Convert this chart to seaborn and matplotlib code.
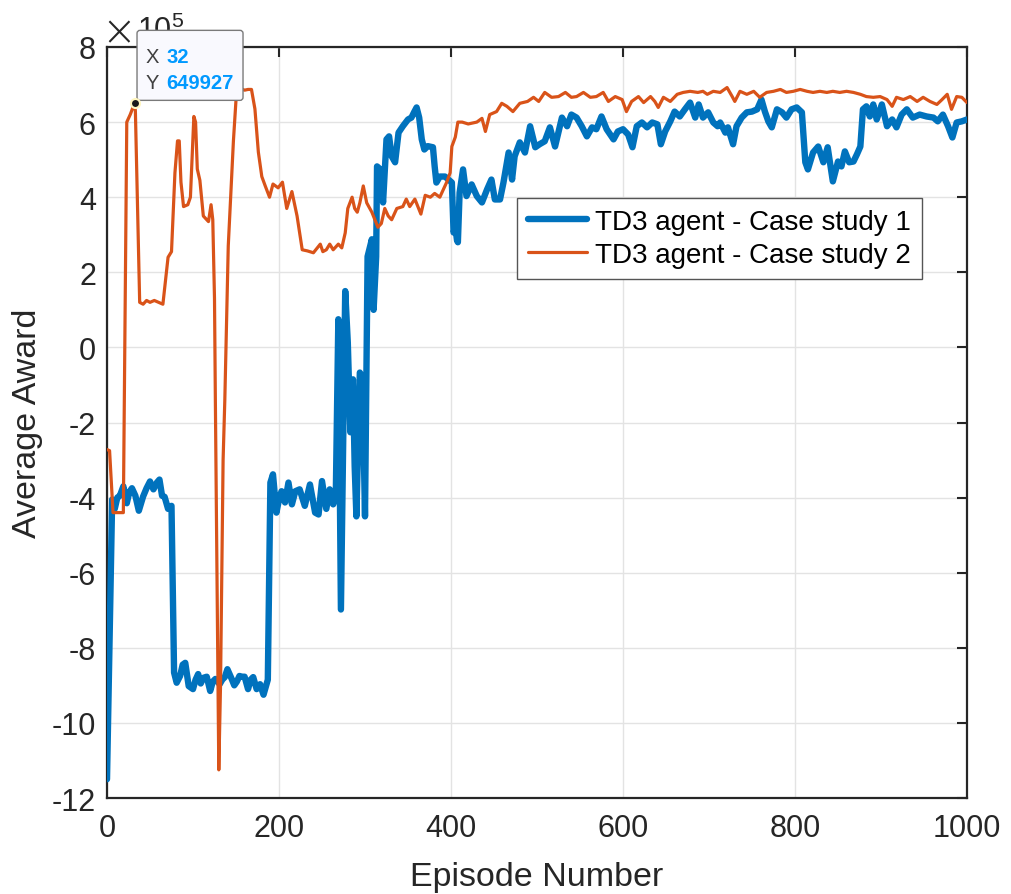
import numpy as np
import pandas as pd
import matplotlib
matplotlib.use("Agg")
import matplotlib.pyplot as plt
import matplotlib.transforms as mtransforms
from matplotlib.patches import FancyBboxPatch
from matplotlib.ticker import FuncFormatter, MultipleLocator
import seaborn as sns

# ---------------- data (rewards in units of 1e5) ----------------
case1_episode = [0, 6, 9, 12, 15, 19, 23, 26, 29, 33, 37, 42, 46, 50, 54, 58, 61, 64, 67, 71, 75,
                 78, 81, 85, 88, 91, 95, 100, 103, 106, 109, 112, 116, 120, 123, 126, 131, 134, 137,
                 140, 145, 148, 151, 154, 157, 160, 164, 167, 170, 174, 178, 182, 187, 190, 193, 197,
                 200, 203, 207, 211, 215, 219, 224, 230, 236, 242, 246, 250, 255, 259, 263, 266, 269,
                 272, 277, 280, 283, 286, 288, 290, 294, 297, 300, 303, 306, 308, 310, 313, 314, 318,
                 321, 325, 328, 331, 335, 339, 344, 350, 354, 357, 360, 363, 366, 369, 373, 379, 381,
                 383, 387, 393, 397, 401, 403, 405, 407, 408, 410, 414, 418, 424, 430, 436, 442, 447,
                 451, 457, 461, 467, 471, 474, 480, 486, 492, 498, 503, 509, 515, 521, 529, 535, 540,
                 546, 552, 558, 564, 569, 575, 581, 589, 594, 600, 606, 611, 616, 622, 628, 634, 640,
                 644, 649, 655, 660, 666, 672, 678, 684, 688, 693, 699, 705, 710, 713, 719, 722, 728,
                 732, 738, 744, 750, 756, 761, 765, 769, 773, 779, 785, 790, 796, 802, 808, 812, 815,
                 821, 827, 833, 838, 844, 850, 854, 858, 863, 868, 872, 876, 879, 883, 887, 891, 895,
                 901, 907, 913, 918, 924, 930, 937, 945, 953, 961, 966, 972, 978, 983, 988, 994, 1000]
case1_reward = [-11.5, -4.05, -4.3, -4.0, -3.95, -3.7, -4.15, -3.85, -3.75, -3.95, -4.35, -3.97, -3.75,
                -3.57, -3.78, -3.6, -3.52, -3.95, -3.98, -4.3, -4.22,
                -8.66, -8.93, -8.75, -8.45, -8.4, -9.02, -9.1, -8.85, -8.7, -8.95, -8.8, -8.77, -9.15,
                -8.9, -8.83, -8.97, -8.85, -8.78, -8.57, -8.83, -9.0, -8.9, -8.75, -8.77, -8.77, -9.1,
                -8.85, -8.78, -9.1, -8.97, -9.25, -8.85, -3.6, -3.38, -4.4,
                -4.05, -3.83, -4.13, -3.6, -4.18, -3.83, -3.78, -4.22, -3.65, -4.4, -4.45, -3.56, -4.3,
                -3.78, -4.18, -4.0, 0.75,
                -6.98, 1.5, 0.13, -2.26, -0.85, -3.17, -4.5, -0.67, -0.8, -4.5, 2.42, 2.7, 2.88, 1.0,
                2.42, 4.82, 4.74,
                3.86, 5.54, 5.62, 5.09, 4.93, 5.72, 5.89, 6.07, 6.12, 6.26, 6.39, 6.12, 5.54, 5.27,
                5.36, 5.33, 4.82,
                4.39, 4.55, 4.55, 4.47, 4.39, 3.06, 3.2, 2.85, 2.8, 4.12, 4.74, 4.03, 4.34, 4.03, 3.86,
                4.21, 4.47,
                3.94, 3.94, 4.39, 5.19, 4.47, 5.09, 5.46, 5.19, 5.89, 5.33, 5.41, 5.49, 5.86, 5.35,
                6.12, 5.89, 6.2,
                6.12, 5.89, 5.62, 5.86, 5.81, 6.15, 5.81, 5.54, 5.75, 5.81, 5.67, 5.33, 5.89, 5.99,
                5.86, 5.99, 5.94,
                5.41, 5.75, 6.02, 6.28, 6.15, 6.34, 6.52, 6.12, 6.47, 6.12, 6.26, 5.99, 5.89, 5.99,
                5.72, 5.86, 5.41,
                5.89, 6.12, 6.26, 6.28, 6.34, 6.6, 6.28, 6.02, 5.86, 6.34, 6.26, 6.12, 6.34, 6.39,
                6.26, 4.93, 4.74,
                5.19, 5.35, 4.93, 5.33, 4.42, 4.95, 4.82, 5.22, 4.93, 4.95, 5.14, 5.35, 6.34, 6.42,
                6.15, 6.47, 6.07,
                6.47, 5.89, 6.07, 5.86, 6.2, 6.34, 6.12, 6.2, 6.15, 6.12, 6.02, 6.2, 5.89, 5.59, 5.99,
                6.02, 6.07]

case2_episode = [0, 3, 7, 12, 19, 23, 27, 32, 33, 38, 42, 46, 50, 55, 60, 65, 71, 75, 79, 82, 84, 86,
                 89, 94, 97, 101, 103, 105, 108, 112, 118, 121, 123, 125, 126, 129, 130, 132, 135,
                 137, 141, 147, 151, 155, 160, 164, 168, 172, 176, 180, 184, 189, 193, 199, 204, 209,
                 215, 221, 227, 233, 240, 248, 251, 255, 259, 263, 269, 273, 277, 280, 285, 288, 291,
                 294, 298, 302, 308, 315, 319, 323, 327, 331, 337, 344, 348, 352, 358, 365, 370, 376,
                 381, 387, 395, 399, 401, 405, 408, 413, 420, 430, 436, 440, 445, 453, 459, 465, 472,
                 480, 489, 496, 502, 509, 517, 525, 533, 540, 546, 554, 562, 569, 577, 583, 591, 599,
                 604, 610, 618, 624, 632, 637, 641, 647, 655, 663, 670, 678, 687, 693, 698, 705, 713,
                 721, 727, 730, 736, 744, 752, 759, 767, 775, 783, 790, 798, 806, 814, 821, 829, 837,
                 844, 852, 860, 868, 876, 883, 891, 899, 907, 913, 918, 926, 934, 942, 949, 957, 965,
                 971, 977, 982, 988, 994, 1000]
case2_reward = [-2.72, -2.75, -4.4, -4.4, -4.4, 6.0, 6.2, 6.49927, 6.3, 1.2, 1.15, 1.25, 1.2, 1.25,
                1.2, 1.15, 2.4, 2.55, 4.65, 5.5, 5.5, 4.4,
                3.75, 3.8, 4.0, 6.15, 6.0, 4.75, 4.45, 3.5, 3.35, 3.8, 3.4, 1.3, -1.4, -9.0, -11.25,
                -9.0, -3.0,
                -1.4, 2.7, 5.5, 6.95, 6.9, 6.85, 6.87, 6.87, 6.35, 5.2, 4.55, 4.3, 4.0, 4.35, 4.25,
                4.4, 3.7,
                4.15, 3.5, 2.6, 2.57, 2.52, 2.75, 2.55, 2.6, 2.75, 2.6, 2.75, 2.65, 3.05, 3.7, 4.0,
                3.7, 3.6,
                3.85, 4.3, 3.85, 3.6, 3.2, 3.3, 3.7, 3.5, 3.4, 3.7, 3.75, 3.95, 3.75, 3.95, 3.55,
                4.05, 4.0,
                4.1, 4.0, 4.4, 4.65, 5.35, 5.6, 6.0, 6.0, 5.95, 6.0, 6.1, 5.75, 6.2, 6.28, 6.5, 6.42,
                6.28,
                6.5, 6.55, 6.66, 6.55, 6.79, 6.66, 6.68, 6.79, 6.66, 6.68, 6.79, 6.66, 6.68, 6.79,
                6.55, 6.68, 6.6,
                6.28, 6.55, 6.68, 6.52, 6.68, 6.55, 6.39, 6.66, 6.55, 6.74, 6.79, 6.82, 6.79, 6.82,
                6.74, 6.82, 6.79,
                6.92, 6.68, 6.55, 6.82, 6.74, 6.82, 6.66, 6.79, 6.82, 6.87, 6.79, 6.82, 6.87, 6.82,
                6.79, 6.82, 6.79,
                6.82, 6.79, 6.82, 6.79, 6.74, 6.68, 6.66, 6.68, 6.6, 6.42, 6.66, 6.6, 6.68, 6.55,
                6.66, 6.55, 6.47,
                6.6, 6.74, 6.34, 6.68, 6.66, 6.52]

series_labels = ["TD3 agent - Case study 1", "TD3 agent - Case study 2"]
x_ticks = [0, 200, 400, 600, 800, 1000]
y_tick_step = 2e5
reward_scale = 1e5
tip_x, tip_y = 32, 649927

# ---------------- style ----------------
sns.set_theme(style="white")
plt.rcParams["font.family"] = ["Liberation Sans", "DejaVu Sans"]
plt.rcParams["axes.unicode_minus"] = False
plt.rcParams["mathtext.fontset"] = "custom"
plt.rcParams["mathtext.rm"] = "Liberation Sans"
dark = "#262626"
blue = "#0072BD"
orange = "#D95319"

fig = plt.figure(figsize=(10.12, 8.95), dpi=100)
ax = fig.add_axes([0.10573, 0.10726, 0.8498, 0.83911])

df1 = pd.DataFrame({"Episode": case1_episode,
                    "Reward": np.array(case1_reward) * reward_scale})
df2 = pd.DataFrame({"Episode": case2_episode,
                    "Reward": np.array(case2_reward) * reward_scale})

sns.lineplot(data=df1, x="Episode", y="Reward", ax=ax, color=blue, linewidth=4.6,
             estimator=None, label=series_labels[0], zorder=3)
sns.lineplot(data=df2, x="Episode", y="Reward", ax=ax, color=orange, linewidth=2.3,
             estimator=None, label=series_labels[1], zorder=4)

ax.set_xlim(0, 1000)
ax.set_ylim(-12e5, 8e5)
ax.set_xticks(x_ticks)
ax.yaxis.set_major_locator(MultipleLocator(y_tick_step))
ax.yaxis.set_major_formatter(FuncFormatter(lambda v, p: f"{v / reward_scale:g}"))
# exponent label (MATLAB style "×10^5")
ax.annotate("\u00d7", xy=(0, 1), xycoords="axes fraction",
            xytext=(12, 15.5), textcoords="offset pixels", ha="center", va="center",
            fontsize=30, color=dark, zorder=1, annotation_clip=False,
            fontfamily="DejaVu Sans", fontweight="light")
ax.annotate("$\\mathregular{10^{5}}$", xy=(0, 1), xycoords="axes fraction",
            xytext=(30, 8), textcoords="offset pixels", ha="left", va="baseline",
            fontsize=22, color=dark, zorder=1, annotation_clip=False)

ax.grid(True, color="#e3e3e3", linewidth=1.0)
ax.set_axisbelow(True)
for s in ax.spines.values():
    s.set_color(dark)
    s.set_linewidth(1.6)
    s.set_visible(True)
ax.tick_params(axis="both", which="major", direction="in", length=7, width=1.5,
               top=True, right=True, labelsize=22, colors=dark)
ax.tick_params(axis="x", pad=11)
ax.tick_params(axis="y", pad=8)

ax.set_xlabel("Episode Number", fontsize=24.5, color=dark, labelpad=13)
ax.set_ylabel("Average Award", fontsize=24.5, color=dark, labelpad=6)

leg = ax.legend(loc="upper left", bbox_to_anchor=(0.477, 0.799), fontsize=20,
                frameon=True, fancybox=False, framealpha=1, borderpad=0.4,
                labelspacing=0.25, handlelength=2.1, handletextpad=0.3,
                borderaxespad=0)
leg.get_frame().set_edgecolor("#555555")
leg.get_frame().set_linewidth(1.0)
leg.set_zorder(6)
for t in leg.get_texts():
    t.set_color("black")

# ---------------- data tip ----------------
ax.plot([tip_x], [tip_y], "o", color="#1a1a1a", markersize=6.5,
        markeredgecolor="#fff6c0", markeredgewidth=1.5, zorder=12, clip_on=False)
fig.canvas.draw()
px, py = ax.transData.transform((tip_x, tip_y))
box = FancyBboxPatch((px + 2.5, py + 3), 106, 70,
                     boxstyle="round,pad=0,rounding_size=3",
                     transform=mtransforms.IdentityTransform(),
                     facecolor="#f9f9fe", edgecolor="#7a7a7a", linewidth=1.0,
                     zorder=10, clip_on=False)
ax.add_artist(box)
for lbl, val, dy in (("X", str(tip_x), 47), ("Y", str(tip_y), 21)):
    ax.annotate(lbl, xy=(tip_x, tip_y), xytext=(11.5, dy), textcoords="offset pixels",
                ha="left", va="center", fontsize=14.5, color="#404040", zorder=13,
                annotation_clip=False)
    ax.annotate(val, xy=(tip_x, tip_y), xytext=(31.5, dy), textcoords="offset pixels",
                ha="left", va="center", fontsize=14.5, color="#0099FF", fontweight="bold",
                zorder=13, annotation_clip=False)

fig.savefig("out.png", dpi=100)
